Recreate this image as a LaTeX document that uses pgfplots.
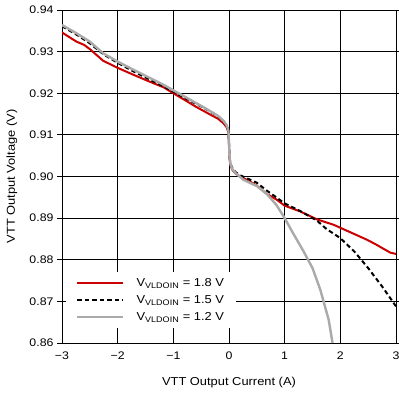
\documentclass[border=0pt]{standalone}
\usepackage{fontspec}
\setmainfont{Liberation Sans}[FakeStretch=1.12]
\usepackage{pgfplots}
\pgfplotsset{compat=1.18}
\definecolor{tired}{RGB}{204,0,0}
\definecolor{tigray}{RGB}{170,170,170}
\pgfplotstableread{
x y
-3.00 0.9346
-2.87 0.9335
-2.74 0.9324
-2.60 0.9316
-2.50 0.9306
-2.26 0.9278
-2.00 0.9261
-1.71 0.9244
-1.41 0.9227
-1.17 0.9214
-1.00 0.9200
-0.81 0.9185
-0.60 0.9168
-0.45 0.9157
-0.30 0.9146
-0.20 0.9139
-0.10 0.9128
-0.04 0.9118
-0.01 0.9105
0.00 0.9075
0.01 0.9042
0.03 0.9026
0.06 0.9016
0.12 0.9007
0.20 0.9000
0.35 0.8990
0.50 0.8978
0.68 0.8958
0.85 0.8945
1.00 0.8930
1.28 0.8916
1.58 0.8897
1.88 0.8884
2.18 0.8866
2.48 0.8848
2.65 0.8836
2.78 0.8826
2.90 0.8817
3.00 0.8814
}\redtab
\pgfplotstableread{
x y
-3.00 0.9361
-2.74 0.9341
-2.50 0.9320
-2.26 0.9294
-2.00 0.9273
-1.71 0.9252
-1.41 0.9232
-1.17 0.9216
-1.00 0.9204
-0.81 0.9190
-0.60 0.9175
-0.45 0.9165
-0.30 0.9153
-0.20 0.9145
-0.10 0.9133
-0.04 0.9122
-0.01 0.9110
0.00 0.9080
0.01 0.9045
0.03 0.9030
0.06 0.9020
0.12 0.9010
0.20 0.9003
0.35 0.8994
0.50 0.8985
0.68 0.8966
0.85 0.8950
0.99 0.8936
1.28 0.8917
1.58 0.8894
1.75 0.8874
2.00 0.8852
2.25 0.8820
2.50 0.8780
2.75 0.8736
3.00 0.8688
}\blacktab
\pgfplotstableread{
x y
-3.00 0.9364
-2.74 0.9344
-2.50 0.9324
-2.26 0.9296
-2.00 0.9276
-1.71 0.9256
-1.41 0.9236
-1.17 0.9220
-1.00 0.9207
-0.81 0.9193
-0.60 0.9177
-0.45 0.9166
-0.30 0.9154
-0.20 0.9146
-0.10 0.9134
-0.04 0.9123
-0.01 0.9110
0.00 0.9080
0.01 0.9045
0.03 0.9028
0.06 0.9018
0.12 0.9008
0.26 0.8992
0.50 0.8977
0.68 0.8958
0.85 0.8932
1.00 0.8900
1.15 0.8864
1.34 0.8820
1.50 0.8780
1.64 0.8728
1.79 0.8656
1.86 0.8600
}\graytab
\begin{document}
\begin{tikzpicture}
\begin{axis}[
  scale only axis, width=334pt, height=333pt,
  xmin=-3, xmax=3, ymin=0.86, ymax=0.94,
  xtick={-3,-2,-1,0,1,2,3},
  xticklabels={−3,−2,−1,0,1,2,3},
  ytick={0.86,0.87,0.88,0.89,0.90,0.91,0.92,0.93,0.94},
  yticklabels={0.86,0.87,0.88,0.89,0.90,0.91,0.92,0.93,0.94},
  grid=major,
  major grid style={black, line width=0.8pt},
  axis line style={black, line width=0.9pt},
  tick style={black, line width=0.8pt},
  tick align=outside, major tick length=5pt,
  xtick style={draw=none},
  ticklabel style={font=\fontsize{11}{13}\selectfont},
  xlabel={VTT Output Current (A)},
  ylabel={VTT Output Voltage (V)},
  label style={font=\fontsize{11.5}{13}\selectfont},
  xlabel style={at={(axis description cs:0.5,-0.1201)}, anchor=center},
  ylabel style={at={(axis description cs:-0.1497,0.5)}, anchor=center},
  legend style={at={(axis description cs:0.012,0.045)}, anchor=south west,
    draw=none, fill=white, font=\fontsize{11.5}{13}\selectfont,
    row sep=3.5pt, inner xsep=10pt, inner ysep=4pt},
  legend cell align=left,
  legend image code/.code={\draw[#1] (0pt,0pt) -- (46pt,0pt); \path (56pt,0pt);},
]
\addplot[tired, line width=2pt, no marks] table[x=x,y=y] {\redtab};
\addplot[black, line width=2pt, dash pattern=on 4.5pt off 3pt, no marks] table[x=x,y=y] {\blacktab};
\addplot[tigray, line width=2.4pt, no marks] table[x=x,y=y] {\graytab};
\legend{V\textsubscript{VLDOIN} = 1.8 V, V\textsubscript{VLDOIN} = 1.5 V, V\textsubscript{VLDOIN} = 1.2 V}
\coordinate (sw) at (rel axis cs:0,0);
\coordinate (ne) at (rel axis cs:1,1);
\end{axis}
\pgfresetboundingbox
\path ([xshift=-62pt,yshift=-49pt]sw) rectangle ([xshift=3pt,yshift=10pt]ne);
\end{tikzpicture}
\end{document}
